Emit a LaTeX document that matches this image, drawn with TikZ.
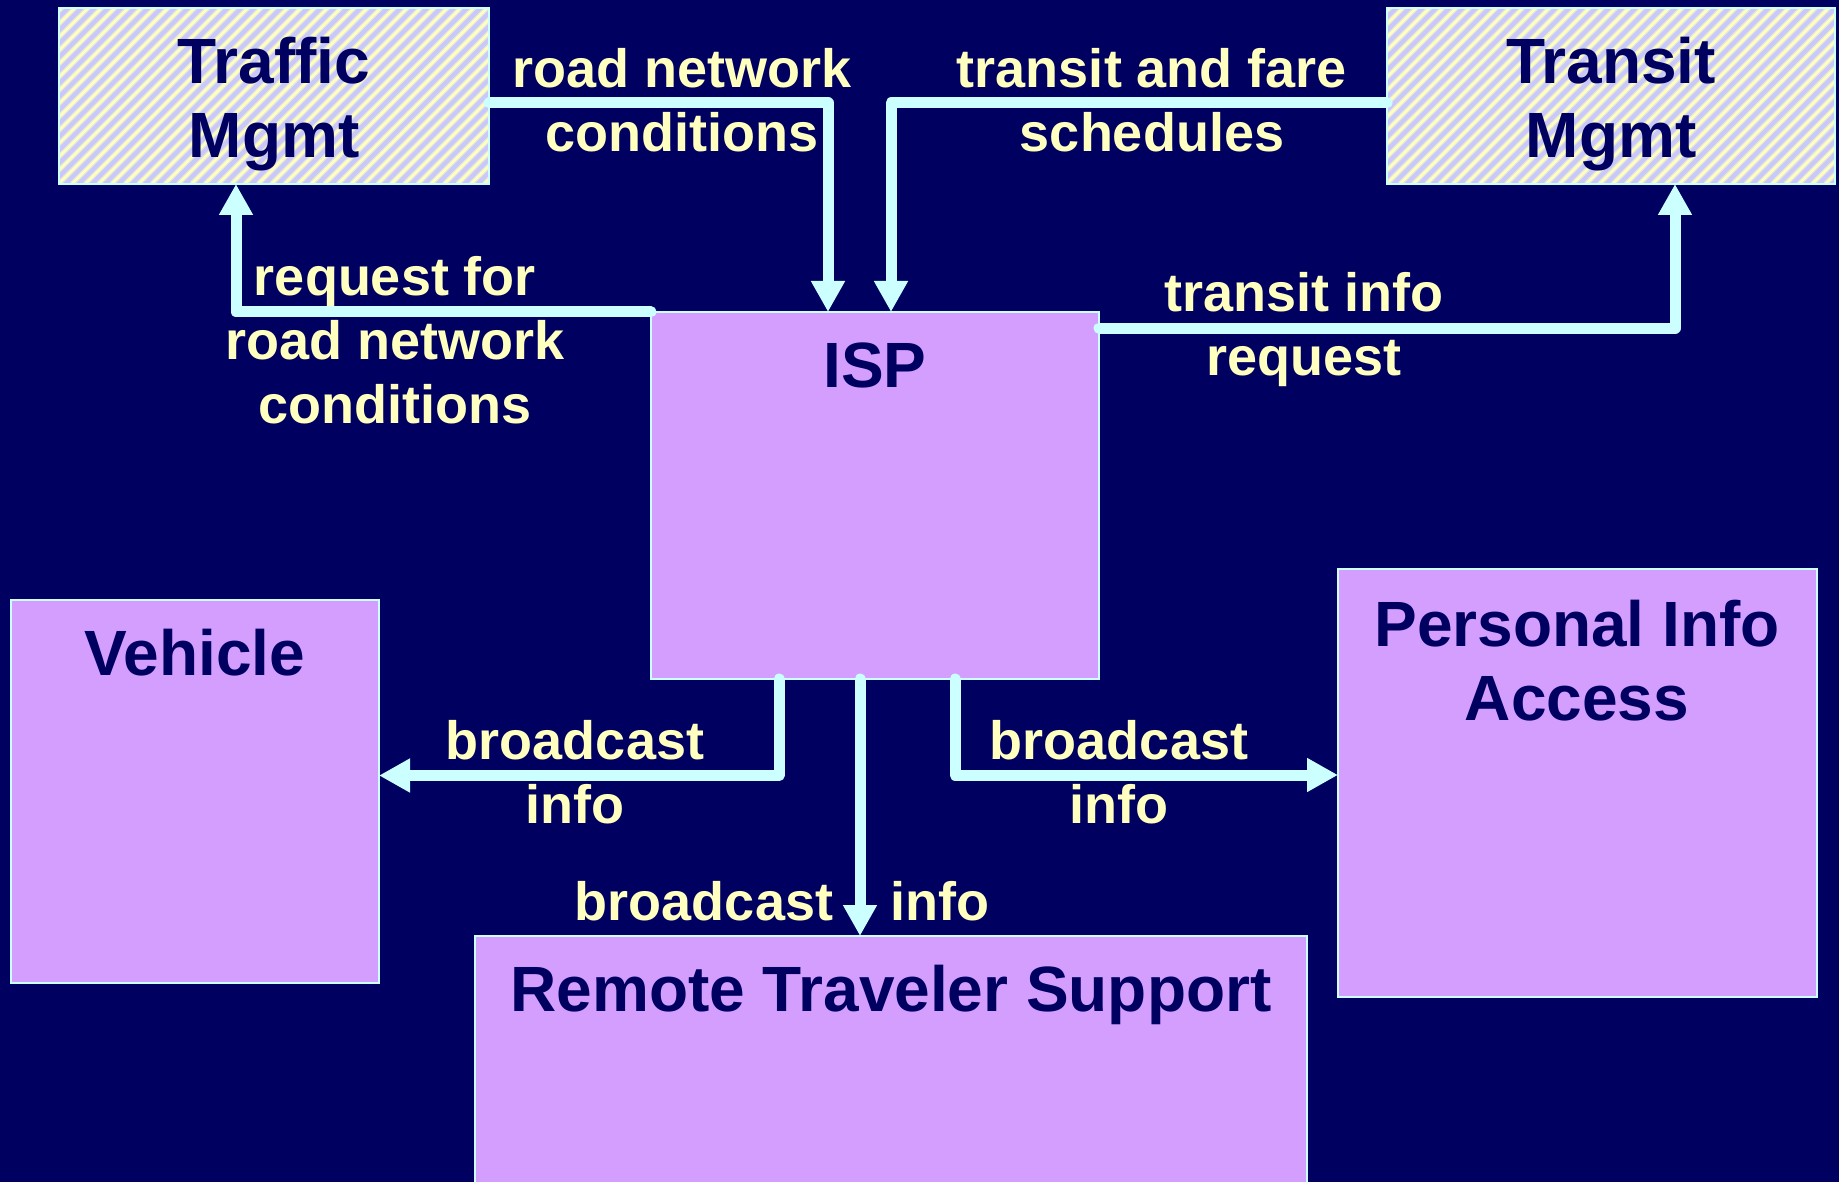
\documentclass[tikz,border=0pt]{standalone}
\usepackage{fontspec}
\setmainfont{Liberation Sans}
\usetikzlibrary{arrows.meta,calc}

\definecolor{bgnavy}{HTML}{000060}
\definecolor{boxlilac}{HTML}{D49EFF}
\definecolor{flowcyan}{HTML}{CCFFFF}
\definecolor{labelyellow}{HTML}{FFFFC0}
\definecolor{hatchbase}{HTML}{C8C8FA}
\definecolor{hatchstripe}{HTML}{FFFFC0}

\tikzset{
  sysbox/.style={draw=flowcyan, line width=1.5pt, fill=boxlilac,
    inner sep=0pt, outer sep=0pt, anchor=north west},
  extbox/.style={sysbox, fill=hatchbase, path picture={
      \foreach \k in {0,...,52}{
        \pgfmathsetmacro\hx{\k*13.3-200}
        \draw[line width=5pt, hatchstripe!55!hatchbase]
          ([xshift=\hx pt]path picture bounding box.south west) -- ++(260pt,260pt);
        \draw[line width=2.5pt, hatchstripe]
          ([xshift=\hx pt]path picture bounding box.south west) -- ++(260pt,260pt);
      }}},
  boxtitle/.style={text=bgnavy, font=\fontsize{64}{74}\selectfont\bfseries,
    align=center, anchor=base, inner sep=0pt},
  flowlabel/.style={text=labelyellow, font=\fontsize{54}{64}\selectfont\bfseries,
    align=center, anchor=base, inner sep=0pt},
  flow/.style={draw=flowcyan, line width=11pt, line cap=round, line join=round,
    -{Triangle[length=31pt,width=32pt]}},
}

\begin{document}
\begin{tikzpicture}[x=1pt,y=-1pt]
  \useasboundingbox (0,0) rectangle (1839,1182);
  \fill[bgnavy] (0,0) rectangle (1839,1182);

  % external centres (hatched) and subsystems
  \node[extbox, minimum width=430pt, minimum height=176pt] (traffic) at (59,8) {};
  \node[extbox, minimum width=448pt, minimum height=176pt] (transit) at (1387,8) {};
  \node[sysbox, minimum width=448pt, minimum height=367pt] (isp) at (651,312) {};
  \node[sysbox, minimum width=368pt, minimum height=383pt] (vehicle) at (11,600) {};
  \node[sysbox, minimum width=479pt, minimum height=428pt] (pia) at (1338,569) {};
  \node[sysbox, minimum width=832pt, minimum height=262pt] (rts) at (475,936) {};

  % box titles
  \node[boxtitle] (trafficT) at (274,158) {Traffic\\Mgmt};
  \node[boxtitle] (transitT) at (1611,158) {Transit\\Mgmt};
  \node[boxtitle] (ispT) at (875,387) {ISP};
  \node[boxtitle] (vehicleT) at (195,675) {Vehicle};
  \node[boxtitle] (piaT) at (1577,720) {Personal Info\\Access};
  \node[boxtitle] (rtsT) at (891,1011) {Remote Traveler Support};

  % information flows
  \draw[flow] ([yshift=-7pt]traffic.east) -| ([xshift=-47pt]isp.north);
  \draw[flow] ([yshift=-7pt]transit.west) -| ([xshift=16pt]isp.north);
  \draw[flow] (isp.north west) -| ([xshift=-38pt]traffic.south);
  \draw[flow] ([yshift=-16pt]isp.north east) -| ([xshift=64pt]transit.south);
  \draw[flow] ([xshift=-96pt]isp.south) |- ([yshift=16pt]vehicle.east);
  \draw[flow] ([xshift=-15pt]isp.south) -- ([xshift=-15pt]isp.south |- rts.north);
  \draw[flow] ([xshift=80pt]isp.south) |- ([yshift=8pt]pia.west);

  % flow labels
  \node[flowlabel] (lblRoad) at (682,152) {road network\\conditions};
  \node[flowlabel] (lblFare) at (1152,152) {transit and fare\\schedules};
  \node[flowlabel] (lblReq) at (395,423) {request for\\road network\\conditions};
  \node[flowlabel] (lblTinfo) at (1304,375) {transit info\\request};
  \node[flowlabel] (lblVeh) at (575,823) {broadcast\\info};
  \node[flowlabel] (lblPia) at (1119,823) {broadcast\\info};
  \node[flowlabel] (lblRtsA) at (704,920) {broadcast};
  \node[flowlabel] (lblRtsB) at (940,920) {info};
\end{tikzpicture}
\end{document}
